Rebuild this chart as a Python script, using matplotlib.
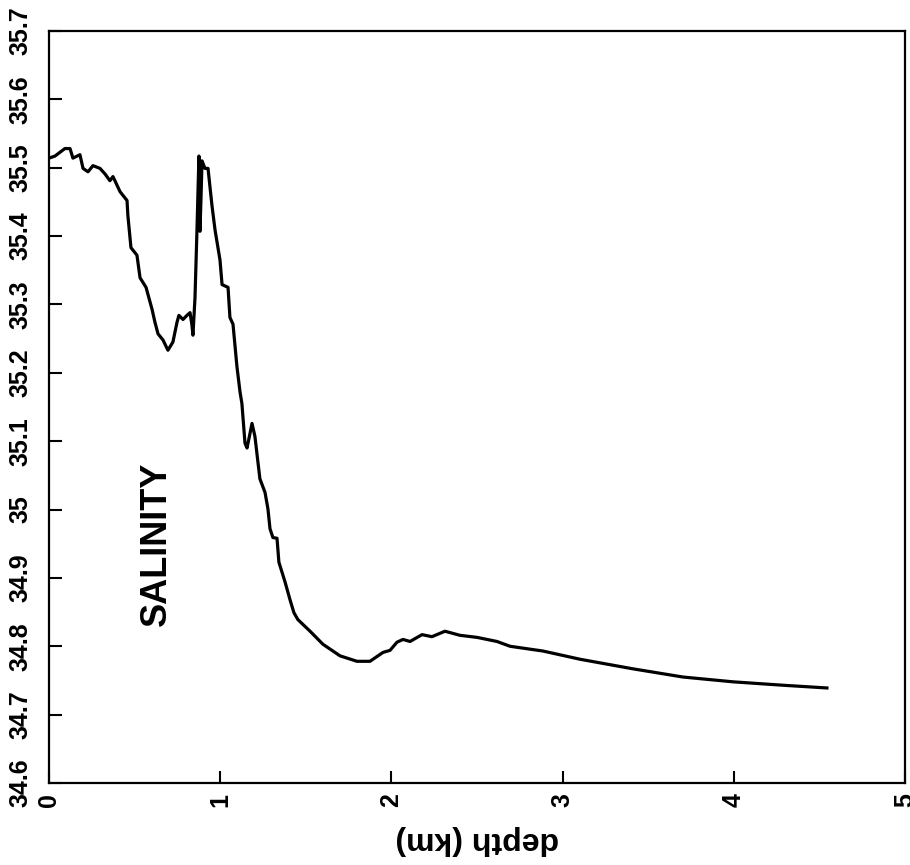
import matplotlib
matplotlib.use("Agg")
import matplotlib.pyplot as plt

# salinity profile (depth in km, salinity)
depth_km = [0.000, 0.035, 0.093, 0.123, 0.140, 0.181, 0.199, 0.228, 0.257, 0.298,
            0.327, 0.356, 0.374, 0.415, 0.456, 0.461, 0.479, 0.514, 0.532, 0.567,
            0.602, 0.619, 0.637, 0.666, 0.695, 0.724, 0.748, 0.759, 0.783, 0.806,
            0.824, 0.835, 0.841, 0.853, 0.864, 0.876, 0.882, 0.888, 0.894, 0.911,
            0.929, 0.952, 0.970, 0.999, 1.011, 1.046, 1.057, 1.075, 1.098, 1.116,
            1.127, 1.145, 1.157, 1.186, 1.203, 1.232, 1.262, 1.279, 1.291, 1.308,
            1.332, 1.343, 1.379, 1.408, 1.431, 1.454, 1.525, 1.600, 1.700, 1.799,
            1.875, 1.951, 1.992, 2.033, 2.068, 2.109, 2.179, 2.237, 2.313, 2.401,
            2.500, 2.617, 2.693, 2.886, 3.102, 3.411, 3.703, 3.995, 4.287, 4.544]
salinity = [35.514, 35.517, 35.528, 35.528, 35.514, 35.519, 35.499, 35.494, 35.503, 35.499,
            35.491, 35.481, 35.487, 35.465, 35.452, 35.430, 35.383, 35.372, 35.339, 35.325,
            35.293, 35.274, 35.257, 35.248, 35.233, 35.245, 35.274, 35.284, 35.278, 35.284,
            35.288, 35.270, 35.255, 35.310, 35.404, 35.517, 35.407, 35.455, 35.510, 35.499,
            35.499, 35.445, 35.409, 35.365, 35.329, 35.325, 35.281, 35.271, 35.209, 35.172,
            35.155, 35.097, 35.090, 35.126, 35.107, 35.045, 35.025, 35.001, 34.972, 34.959,
            34.958, 34.923, 34.894, 34.868, 34.849, 34.839, 34.822, 34.803, 34.786, 34.778,
            34.778, 34.791, 34.794, 34.806, 34.810, 34.807, 34.817, 34.814, 34.822, 34.816,
            34.813, 34.807, 34.800, 34.793, 34.781, 34.767, 34.755, 34.748, 34.743, 34.739]

xticks = [0, 1, 2, 3, 4, 5]
yticks = [34.6, 34.7, 34.8, 34.9, 35.0, 35.1, 35.2, 35.3, 35.4, 35.5, 35.6, 35.7]
ytick_labels = ["34.6", "34.7", "34.8", "34.9", "35", "35.1", "35.2", "35.3",
                "35.4", "35.5", "35.6", "35.7"]

plt.rcParams["font.family"] = ["Liberation Sans", "DejaVu Sans"]
plt.rcParams["font.weight"] = "bold"

fig = plt.figure(figsize=(9.1, 8.65), dpi=100)
ax = fig.add_axes([0.0538, 0.0948, 0.9407, 0.8694])

ax.plot(depth_km, salinity, color="black", lw=2.3)

ax.set_xlim(0, 5)
ax.set_ylim(34.6, 35.7)
ax.set_xticks(xticks)
ax.set_xticklabels([str(t) for t in xticks], rotation=90, fontsize=18, fontweight="bold")
ax.set_yticks(yticks)
ax.set_yticklabels(ytick_labels, rotation=90, va="center", fontsize=18, fontweight="bold")
ax.tick_params(direction="in", length=9, width=1.5)
ax.tick_params(axis="y", pad=12)
ax.tick_params(axis="x", pad=7)
for s in ax.spines.values():
    s.set_linewidth(1.6)

# axis title comes out upside down in the scan
ax.set_xlabel("depth (km)", rotation=180, fontsize=23, fontweight="bold")
ax.xaxis.set_label_coords(0.5, -0.076)
ax.xaxis.label.set_va("center")

ax.text(0.63, 34.95, "SALINITY", rotation=90, ha="center", va="center",
        fontsize=26, fontweight="bold")

plt.savefig("out.png", dpi=100)
